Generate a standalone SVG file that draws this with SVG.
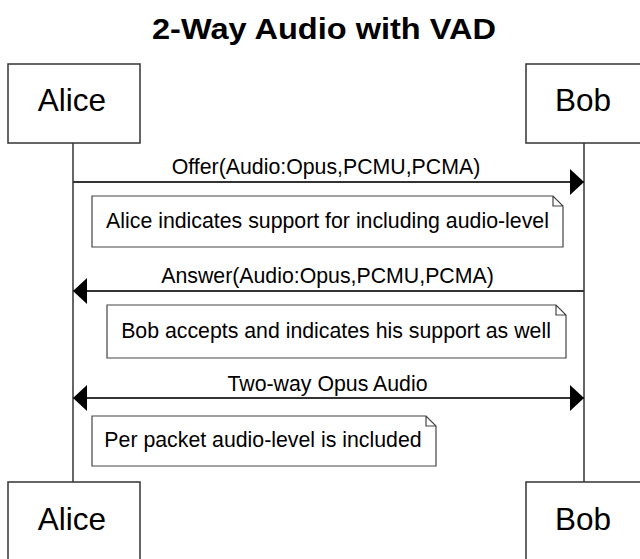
<svg xmlns="http://www.w3.org/2000/svg" width="640" height="559" viewBox="0 0 640 559">
<style>
text{font-family:"Liberation Sans",Arial,sans-serif;fill:#000}
.title{font-size:30px;font-weight:bold}
.actor{font-size:31.5px}
.msg{font-size:21.3px}
.box{fill:#fff;stroke:#333;stroke-width:1.5}
.life{stroke:#333;stroke-width:1.5}
.note{fill:#fff;stroke:#444;stroke-width:1.2}
.conn{stroke:#333;stroke-width:2;fill:none}
</style>
<defs>
<marker id="ah" viewBox="0 0 14 26" refX="14" refY="13" markerWidth="14" markerHeight="26" markerUnits="userSpaceOnUse" orient="auto-start-reverse">
<path d="M0,0 L14,13 L0,26 Z" fill="#000"/>
</marker>
</defs>
<rect width="640" height="559" fill="#fff"/>
<text class="title" x="324" y="39" text-anchor="middle" textLength="344" lengthAdjust="spacingAndGlyphs">2-Way Audio with VAD</text>
<g id="lifelines">
<line class="life" x1="73" y1="143" x2="73" y2="482"/>
<line class="life" x1="584" y1="143" x2="584" y2="482"/>
</g>
<g id="alice-top">
<rect class="box" x="8" y="64" width="132" height="79"/>
<text class="actor" x="72" y="111" text-anchor="middle">Alice</text>
</g>
<g id="bob-top">
<rect class="box" x="526" y="64" width="118" height="79"/>
<text class="actor" x="583" y="111" text-anchor="middle">Bob</text>
</g>
<g id="alice-bottom">
<rect class="box" x="8" y="482" width="132" height="79"/>
<text class="actor" x="72" y="530" text-anchor="middle">Alice</text>
</g>
<g id="bob-bottom">
<rect class="box" x="526" y="482" width="118" height="79"/>
<text class="actor" x="583" y="530" text-anchor="middle">Bob</text>
</g>
<g id="connectors">
<line class="conn" x1="73" y1="182" x2="584" y2="182" marker-end="url(#ah)"/>
<text class="msg" x="326" y="174" text-anchor="middle">Offer(Audio:Opus,PCMU,PCMA)</text>
<line class="conn" x1="584" y1="291" x2="73" y2="291" marker-end="url(#ah)"/>
<text class="msg" x="327.5" y="283" text-anchor="middle">Answer(Audio:Opus,PCMU,PCMA)</text>
<line class="conn" x1="73" y1="398" x2="584" y2="398" marker-start="url(#ah)" marker-end="url(#ah)"/>
<text class="msg" x="327.5" y="391" text-anchor="middle">Two-way Opus Audio</text>
</g>
<g id="note1">
<path class="note" d="M92,196 H553 L563,206 V247 H92 Z M553,196 V206 H563"/>
<text class="msg" x="327.5" y="228" text-anchor="middle">Alice indicates support for including audio-level</text>
</g>
<g id="note2">
<path class="note" d="M107,305 H556 L566,315 V358 H107 Z M556,305 V315 H566"/>
<text class="msg" x="336" y="338" text-anchor="middle">Bob accepts and indicates his support as well</text>
</g>
<g id="note3">
<path class="note" d="M92,416 H426 L436,426 V466 H92 Z M426,416 V426 H436"/>
<text class="msg" x="263" y="447" text-anchor="middle">Per packet audio-level is included</text>
</g>
</svg>
